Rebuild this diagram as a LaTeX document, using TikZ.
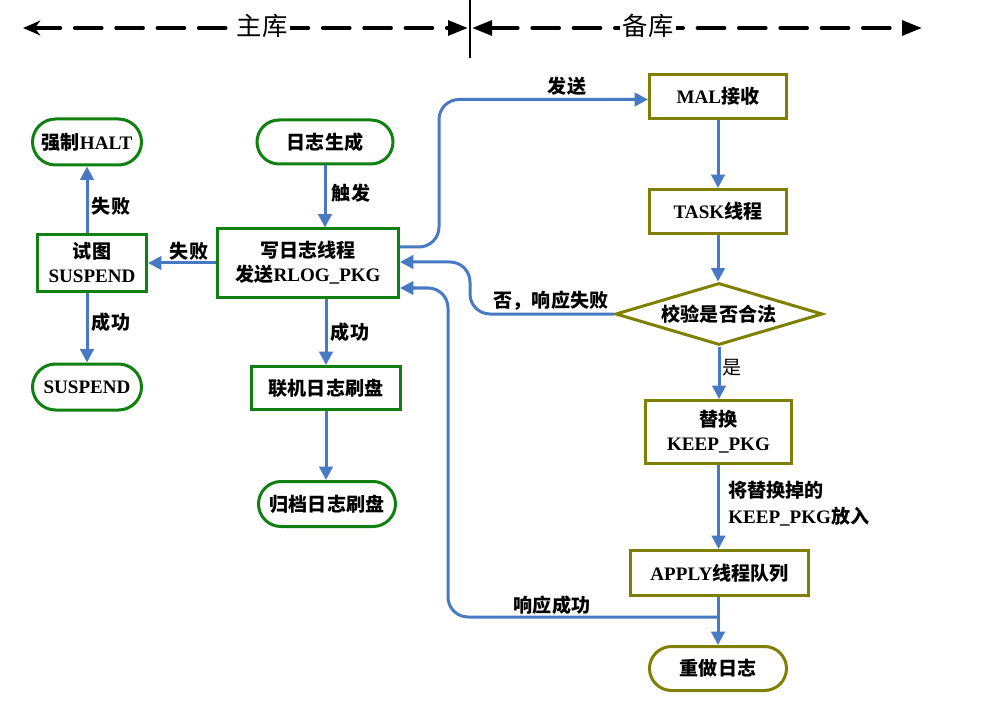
\documentclass[tikz,border=0pt]{standalone}
\usepackage{fontspec}
\setmainfont{Liberation Serif}
\newfontfamily\cjk{Noto Sans CJK SC}
\usetikzlibrary{shapes.misc,shapes.geometric,arrows.meta,calc}
\definecolor{gG}{RGB}{16,128,16}
\definecolor{oL}{RGB}{128,128,0}
\definecolor{bL}{RGB}{72,122,196}
\newcommand\cn[1]{{\cjk #1}}
\begin{document}
\begin{tikzpicture}[x=0.75pt,y=-0.75pt,
  txt/.style={font=\bfseries\fontsize{14.3pt}{18pt}\selectfont, align=center, inner sep=0pt},
  gbox/.style={txt, draw=gG, line width=2.25pt, rectangle},
  gpill/.style={txt, draw=gG, line width=2.25pt, rounded rectangle},
  obox/.style={txt, draw=oL, line width=2.25pt, rectangle},
  opill/.style={txt, draw=oL, line width=2.25pt, rounded rectangle},
  arr/.style={draw=bL, line width=2.25pt, -{Triangle[length=10pt,width=10pt]}},
  lbl/.style={font=\bfseries\fontsize{14.3pt}{19.5pt}\selectfont, inner sep=0pt, align=left},
  hdr/.style={line width=3pt, line cap=round, dash pattern=on 20pt off 11pt},
  hlab/.style={font=\cjk\fontsize{19pt}{22pt}\selectfont, fill=white, inner xsep=2pt, inner ysep=1pt},
]
\useasboundingbox (0,0) rectangle (999,709);

% header
\coordinate (h1) at (23,28);
\coordinate (h2) at (468,28);
\coordinate (h3) at (472,28);
\coordinate (h4) at (922,28);
\coordinate (v1) at (470,0);
\coordinate (v2) at (470,58);
\draw[hdr, {Stealth[length=13pt,width=11pt]}-{Triangle[length=15pt,width=11pt]}] (h1) -- (h2);
\draw[hdr, {Triangle[length=15pt,width=11pt]}-{Triangle[length=15pt,width=11pt]}] (h3) -- (h4);
\draw[line width=1.6pt] (v1) -- (v2);
\node[hlab] (zk) at (262,26) {主库};
\node[hlab] (bk) at (648,26) {备库};

% main side
\node[gpill, minimum width=81.75pt, minimum height=34.5pt] (halt) at (87,142) {\cn{强制}HALT};
\node[gbox, minimum width=81.75pt, minimum height=42pt] (try) at (92,263) {\cn{试图}\\SUSPEND};
\node[gpill, minimum width=81.75pt, minimum height=34.5pt] (susp) at (87,387) {SUSPEND};
\node[gpill, minimum width=102pt, minimum height=33pt] (gen) at (325,142) {\cn{日志生成}};
\node[gbox, minimum width=135.75pt, minimum height=51pt] (wr) at (308,263) {\cn{写日志线程}\\\cn{发送}RLOG\_PKG};
\node[gbox, minimum width=111.75pt, minimum height=32.25pt] (lj) at (326,388) {\cn{联机日志刷盘}};
\node[gpill, minimum width=102.75pt, minimum height=33.75pt] (gd) at (327,504) {\cn{归档日志刷盘}};

% standby side
\node[obox, minimum width=102.75pt, minimum height=33pt] (mal) at (718,96.5) {MAL\cn{接收}};
\node[obox, minimum width=102.75pt, minimum height=33pt] (task) at (718,211.5) {TASK\cn{线程}};
\node[txt, draw=oL, line width=2.25pt, diamond, shape aspect=3.2, minimum width=155.25pt, minimum height=46.5pt] (chk) at (719,314) {\cn{校验是否合法}};
\node[obox, minimum width=109.5pt, minimum height=47.25pt] (rep) at (718.5,432) {\cn{替换}\\KEEP\_PKG};
\node[obox, minimum width=133.5pt, minimum height=33.75pt] (apply) at (719.5,573) {APPLY\cn{线程队列}};
\node[opill, minimum width=102.75pt, minimum height=33pt] (redo) at (718,668.5) {\cn{重做日志}};

% main side connectors
\draw[arr] (gen.south) -- (gen.south |- wr.north);
\draw[arr] (wr.west) -- (try.east);
\draw[arr] (halt.south |- try.north) -- (halt.south);
\draw[arr] (susp.north |- try.south) -- (susp.north);
\draw[arr] (lj.north |- wr.south) -- (lj.north);
\draw[arr] (lj.south) -- (lj.south |- gd.north);

% standby connectors
\draw[arr] (mal.south) -- (task.north);
\draw[arr] (task.south) -- (task.south |- chk.north);
\draw[arr] (chk.south) -- (chk.south |- rep.north);
\draw[arr] (rep.south) -- (rep.south |- apply.north);
\draw[arr] (redo.north |- apply.south) -- (redo.north);

% cross connectors
\coordinate (jy) at (0,617);
\coordinate (j) at (redo.north |- jy);
\coordinate (s1) at ($(wr.east)+(0,-16)$);
\coordinate (e1) at ($(mal.west)+(0,3)$);
\coordinate (e2) at ($(wr.east)+(0,-1)$);
\coordinate (e3) at ($(wr.east)+(0,25)$);
\draw[arr, rounded corners=15pt] (s1) -- (s1 -| 439,0) -- (e1 -| 439,0) -- (e1);
\draw[arr, rounded corners=15pt] (chk.west) -- (chk.west -| 470,0) -- (e2 -| 470,0) -- (e2);
\draw[arr, rounded corners=15pt] (j) -- (j -| 448,0) -- (e3 -| 448,0) -- (e3);

% labels
\node[lbl] (l1) at (351,193) {\cn{触发}};
\node[lbl] (l2) at (189,251) {\cn{失败}};
\node[lbl] (l3) at (111,206) {\cn{失败}};
\node[lbl] (l4) at (111,322) {\cn{成功}};
\node[lbl] (l5) at (350,332) {\cn{成功}};
\node[lbl] (l6) at (567,86) {\cn{发送}};
\node[lbl] (l7) at (551,301) {\cn{否，响应失败}};
\node[lbl] (l8) at (552,605) {\cn{响应成功}};
\node[font=\cjk\fontsize{14.3pt}{18pt}\selectfont, inner sep=0pt] (l9) at (732,368) {是};
\node[lbl, anchor=west] (l10) at (728,504) {\cn{将替换掉的}\\KEEP\_PKG\cn{放入}};
\end{tikzpicture}
\end{document}
